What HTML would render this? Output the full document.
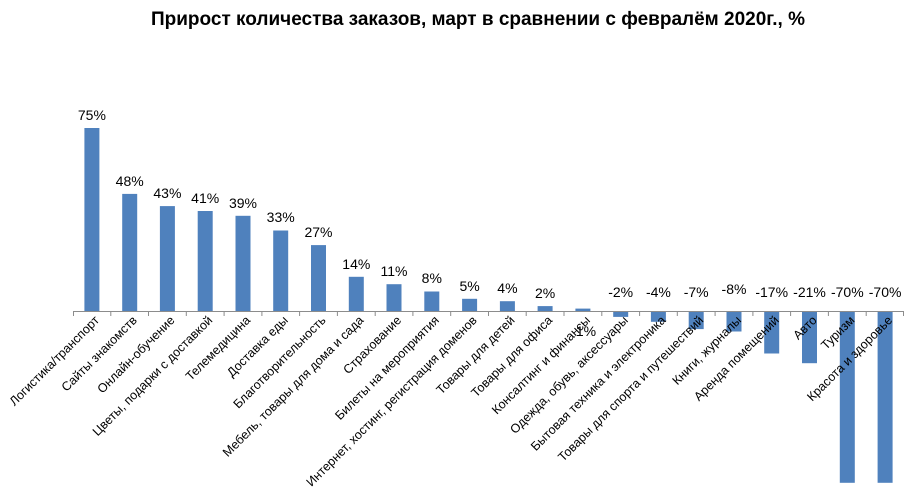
<!DOCTYPE html>
<html><head><meta charset="utf-8"><style>body{margin:0;background:#fff}svg{display:block}</style></head><body>
<svg width="918" height="493" xmlns="http://www.w3.org/2000/svg" font-family="Liberation Sans, sans-serif">
<text x="478" y="25" text-anchor="middle" font-size="19" font-weight="bold" fill="#000">Прирост количества заказов, март в сравнении с февралём 2020г., %</text>
<g fill="#4f81bd">
<rect x="84.4" y="128" width="15" height="183"/>
<rect x="122.2" y="193.9" width="15" height="117.1"/>
<rect x="159.9" y="206.1" width="15" height="104.9"/>
<rect x="197.7" y="211" width="15" height="100"/>
<rect x="235.5" y="215.8" width="15" height="95.2"/>
<rect x="273.2" y="230.5" width="15" height="80.5"/>
<rect x="311" y="245.1" width="15" height="65.9"/>
<rect x="348.8" y="276.8" width="15" height="34.2"/>
<rect x="386.5" y="284.2" width="15" height="26.8"/>
<rect x="424.3" y="291.5" width="15" height="19.5"/>
<rect x="462.1" y="298.8" width="15" height="12.2"/>
<rect x="499.9" y="301.2" width="15" height="9.8"/>
<rect x="537.6" y="306.1" width="15" height="4.9"/>
<rect x="575.4" y="308.6" width="15" height="2.4"/>
<rect x="613.2" y="312" width="15" height="4.9"/>
<rect x="650.9" y="312" width="15" height="9.8"/>
<rect x="688.7" y="312" width="15" height="17.1"/>
<rect x="726.5" y="312" width="15" height="19.5"/>
<rect x="764.2" y="312" width="15" height="41.5"/>
<rect x="802" y="312" width="15" height="51.2"/>
<rect x="839.8" y="312" width="15" height="170.8"/>
<rect x="877.6" y="312" width="15" height="170.8"/>
</g>
<line x1="73" y1="311.5" x2="904" y2="311.5" stroke="#8c8c8c"/>
<path stroke="#8c8c8c" d="M73.5 311v5M110.8 311v5M148.5 311v5M186.3 311v5M224.1 311v5M261.9 311v5M299.6 311v5M337.4 311v5M375.2 311v5M412.9 311v5M450.7 311v5M488.5 311v5M526.2 311v5M564 311v5M601.8 311v5M639.6 311v5M677.3 311v5M715.1 311v5M752.9 311v5M790.6 311v5M828.4 311v5M866.2 311v5M903.5 311v5"/>
<g font-size="14" text-anchor="middle" fill="#000">
<text x="91.9" y="120">75%</text>
<text x="129.7" y="186">48%</text>
<text x="167.4" y="198">43%</text>
<text x="205.2" y="203">41%</text>
<text x="243" y="208">39%</text>
<text x="280.7" y="222">33%</text>
<text x="318.5" y="237">27%</text>
<text x="356.3" y="269">14%</text>
<text x="394" y="276">11%</text>
<text x="431.8" y="283">8%</text>
<text x="469.6" y="291">5%</text>
<text x="507.4" y="293">4%</text>
<text x="545.1" y="298">2%</text>
<text x="586" y="336">1%</text>
<text x="620.7" y="297">-2%</text>
<text x="658.4" y="297">-4%</text>
<text x="696.2" y="297">-7%</text>
<text x="734" y="294">-8%</text>
<text x="771.7" y="297">-17%</text>
<text x="809.5" y="297">-21%</text>
<text x="847.3" y="297">-70%</text>
<text x="885.1" y="297">-70%</text>
</g>
<g font-size="12.5" text-anchor="end" fill="#000">
<text transform="translate(99.9,321) rotate(-45)">Логистика/транспорт</text>
<text transform="translate(137.7,321) rotate(-45)">Сайты знакомств</text>
<text transform="translate(175.4,321) rotate(-45)">Онлайн-обучение</text>
<text transform="translate(213.2,321) rotate(-45)">Цветы, подарки с доставкой</text>
<text transform="translate(251,321) rotate(-45)">Телемедицина</text>
<text transform="translate(288.7,321) rotate(-45)">Доставка еды</text>
<text transform="translate(326.5,321) rotate(-45)">Благотворительность</text>
<text transform="translate(364.3,321) rotate(-45)">Мебель, товары для дома и сада</text>
<text transform="translate(402,321) rotate(-45)">Страхование</text>
<text transform="translate(439.8,321) rotate(-45)">Билеты на мероприятия</text>
<text transform="translate(477.6,321) rotate(-45)">Интернет, хостинг, регистрация доменов</text>
<text transform="translate(515.4,321) rotate(-45)">Товары для детей</text>
<text transform="translate(553.1,321) rotate(-45)">Товары для офиса</text>
<text transform="translate(590.9,321) rotate(-45)">Консалтинг и финансы</text>
<text transform="translate(628.7,321) rotate(-45)">Одежда, обувь, аксессуары</text>
<text transform="translate(666.4,321) rotate(-45)">Бытовая техника и электроника</text>
<text transform="translate(704.2,321) rotate(-45)">Товары для спорта и путешествий</text>
<text transform="translate(742,321) rotate(-45)">Книги, журналы</text>
<text transform="translate(779.7,321) rotate(-45)">Аренда помещений</text>
<text transform="translate(817.5,321) rotate(-45)">Авто</text>
<text transform="translate(855.3,321) rotate(-45)">Туризм</text>
<text transform="translate(893.1,321) rotate(-45)">Красота и здоровье</text>
</g>
</svg></body></html>
